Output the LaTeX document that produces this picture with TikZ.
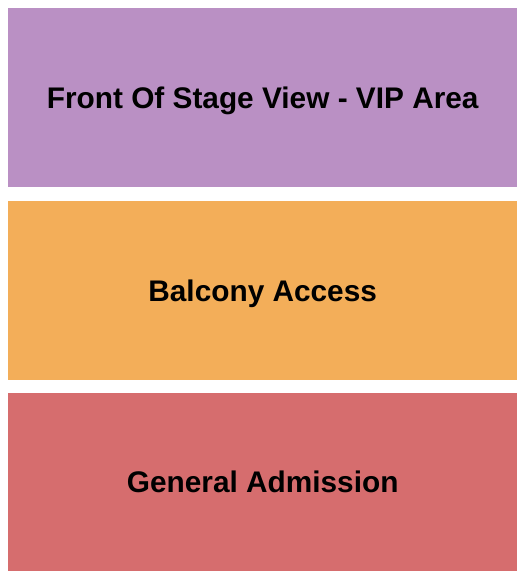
\documentclass[tikz,border=0pt]{standalone}
\usepackage{fontspec}
\setmainfont{Liberation Sans}
\definecolor{vip}{RGB}{186,144,196}
\definecolor{balc}{RGB}{243,174,89}
\definecolor{ga}{RGB}{214,109,110}
\begin{document}
\begin{tikzpicture}[x=1pt,y=-1pt,
  zone/.style={draw=none,inner sep=0pt,minimum width=509pt,anchor=north west},
  zonelabel/.style={inner sep=0pt,text height=21.3pt,text depth=0pt,
    font=\fontsize{29.8}{34}\selectfont\bfseries,text=black}]
\useasboundingbox[fill=white] (0,0) rectangle (525,580);
\node[zone,fill=vip,minimum height=179pt] (vip) at (8,8) {};
\node[zone,fill=balc,minimum height=179pt] (balc) at (8,201) {};
\node[zone,fill=ga,minimum height=178pt] (ga) at (8,393) {};
\node[zonelabel] (viplbl) at (vip.center) {Front Of Stage View - VIP Area};
\node[zonelabel] (balclbl) at (balc.center) {Balcony Access};
\node[zonelabel] (galbl) at (ga.center) {General Admission};
\end{tikzpicture}
\end{document}
